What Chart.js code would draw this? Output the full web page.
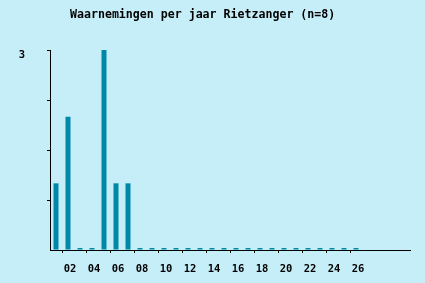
<!DOCTYPE html>
<html>
<head>
<meta charset="utf-8">
<script src="https://cdn.jsdelivr.net/npm/chart.js@4.4.1/dist/chart.umd.min.js"></script>
<style>
  body { margin: 0; background: #c6eef8; }
  canvas { display: block; }
</style>
</head>
<body>
<canvas id="myChart" width="425" height="283"></canvas>
<script>
// years 01..26, plus a few empty slots at the end of the axis
const years = ["01", "02", "03", "04", "05", "06", "07", "08", "09", "10",
  "11", "12", "13", "14", "15", "16", "17", "18", "19", "20",
  "21", "22", "23", "24", "25", "26", "", "", "", ""];
const counts = [1, 2, 0, 0, 3, 1, 1, 0, 0, 0,
  0, 0, 0, 0, 0, 0, 0, 0, 0, 0,
  0, 0, 0, 0, 0, 0, null, null, null, null];
const yTicks = [0, 0.75, 1.5, 2.25, 3];
const yLabels = ["", "", "", "", "3"];
const titleText = "Waarnemingen per jaar Rietzanger (n=8)";

const mono = "'DejaVu Sans Mono', 'Liberation Mono', monospace";

// title drawn at its own spot (it sits a bit left of centre)
const titlePlugin = {
  id: "titleText",
  afterDraw(chart) {
    const ctx = chart.ctx;
    ctx.save();
    ctx.font = "bold 11.6px " + mono;
    ctx.fillStyle = "#000";
    ctx.textBaseline = "middle";
    ctx.textAlign = "left";
    ctx.fillText(titleText, 70, 14.5);
    ctx.restore();
  }
};

let myChart = new Chart(document.getElementById("myChart"), {
  type: "bar",
  data: {
    labels: years,
    datasets: [{
      data: counts,
      backgroundColor: "#0088a8",
      barPercentage: 5 / 12,
      categoryPercentage: 1,
      minBarLength: 2,
    }],
  },
  options: {
    responsive: false,
    animation: false,
    layout: { padding: { top: 50, right: 15, left: 0, bottom: 0 } },
    plugins: {
      legend: { display: false },
      tooltip: { enabled: false },
    },
    scales: {
      x: {
        afterFit: (s) => { s.height = 33; },
        border: { display: true, color: "#000", width: 1 },
        grid: {
          drawOnChartArea: false,
          tickLength: 3,
          color: (c) => (c.index % 2 === 1 && years[c.index] !== "" ? "#000" : "rgba(0,0,0,0)"),
        },
        ticks: {
          autoSkip: false,
          maxRotation: 0,
          padding: 9.5,
          labelOffset: 2,
          color: "#000",
          font: { family: mono, size: 10.5, weight: "bold" },
          callback: (v, i) => (i % 2 === 1 ? years[i] : ""),
        },
      },
      y: {
        min: 0,
        max: 3,
        afterFit: (s) => { s.width = 50; },
        afterBuildTicks: (s) => { s.ticks = yTicks.map((v) => ({ value: v })); },
        border: { display: true, color: "#000", width: 1 },
        grid: {
          drawOnChartArea: false,
          tickLength: 3,
          color: (c) => (c.tick && c.tick.value > 0 ? "#000" : "rgba(0,0,0,0)"),
        },
        ticks: {
          padding: 22,
          labelOffset: 5,
          color: "#000",
          font: { family: mono, size: 10.5, weight: "bold" },
          callback: (v, i) => yLabels[i],
        },
      },
    },
  },
  plugins: [titlePlugin],
});
</script>
</body>
</html>
